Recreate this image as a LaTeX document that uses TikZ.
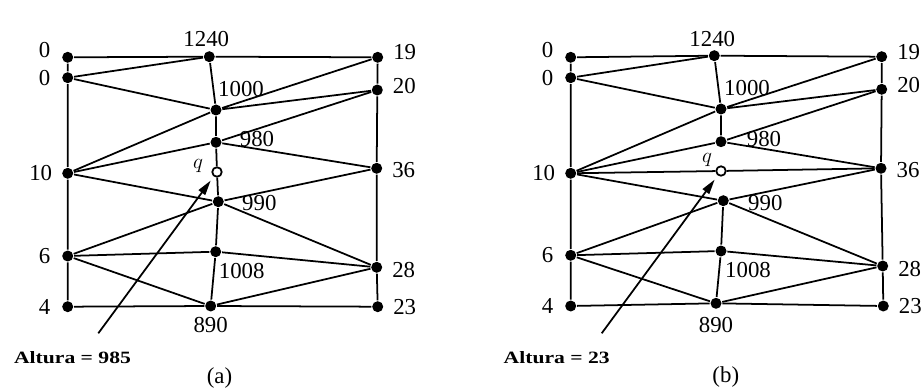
\documentclass[tikz,border=0pt]{standalone}
\usepackage{fontspec}
\setmainfont{Liberation Serif}
\usetikzlibrary{arrows.meta}
\tikzset{every picture/.style={line width=1pt}}
\tikzset{
  dot/.style={circle, fill=black, inner sep=0pt, minimum size=0.22cm},
  hollow/.style={circle, draw=black, fill=white, inner sep=0pt, minimum size=0.19cm},
  lab/.style={font=\fontsize{13}{15}\selectfont, inner sep=0pt},
  alt/.style={font=\fontsize{12.3}{14}\selectfont\bfseries, inner sep=0pt},
  pointer/.style={-{Triangle[length=0.3cm,width=0.16cm]}, shorten >=0.1cm}
}

\begin{document}
\begin{tikzpicture}[x=0.02cm, y=-0.02cm]
    \useasboundingbox (0,0) rectangle (922,391);

    % 图 (a) 的网格点
    \node[dot, label={[lab,shift={(-23,-7)}]center:0}]  (a0t)   at (67.7,57.3) {};
    \node[dot, label={[lab,shift={(-23,0)}]center:0}]   (a0b)   at (67.7,77.7) {};
    \node[dot, label={[lab,shift={(-27,0)}]center:10}]  (a10)   at (67.7,173.3) {};
    \node[dot, label={[lab,shift={(-23,0)}]center:6}]   (a6)    at (67.7,256) {};
    \node[dot, label={[lab,shift={(-23,0)}]center:4}]   (a4)    at (67.7,306.7) {};
    \node[dot, label={[lab,shift={(-3,-18)}]center:1240}] (a1240) at (209.3,56.7) {};
    \node[dot, label={[lab,shift={(25,-21)}]center:1000}] (a1000) at (216,110) {};
    \node[dot, label={[lab,shift={(41,-3)}]center:980}]   (a980)  at (216,142.3) {};
    \node[hollow, label={[lab,shift={(-19,-6)}]center:$q$}] (aq) at (217,172) {};
    \node[dot, label={[lab,shift={(41,1)}]center:990}]    (a990)  at (218.3,201.7) {};
    \node[dot, label={[lab,shift={(26,19)}]center:1008}]  (a1008) at (215.7,251.7) {};
    \node[dot, label={[lab,shift={(0,19)}]center:890}]    (a890)  at (210.7,306) {};
    \node[dot, label={[lab,shift={(27,-5)}]center:19}]  (a19)   at (377.7,57.3) {};
    \node[dot, label={[lab,shift={(27,-4)}]center:20}]  (a20)   at (377.3,90) {};
    \node[dot, label={[lab,shift={(27,2)}]center:36}]   (a36)   at (376.7,168.3) {};
    \node[dot, label={[lab,shift={(27,3)}]center:28}]   (a28)   at (376.7,267.3) {};
    \node[dot, label={[lab,shift={(27,0)}]center:23}]   (a23)   at (377.7,306.7) {};

    % 图 (a) 的边
    \draw (a0t) -- (a1240) -- (a19) -- (a20) -- (a36) -- (a28) -- (a23) -- (a890) -- (a4) -- (a6) -- (a10) -- (a0b) -- (a0t);
    \draw (a0b) -- (a1240) -- (a1000) -- (a0b);
    \draw (a19) -- (a1000) -- (a20);
    \draw (a10) -- (a1000) -- (a980);
    \draw (a20) -- (a980) -- (a10);
    \draw (a980) -- (a36);
    \draw (a980) -- (aq) -- (a990);
    \draw (a10) -- (a990) -- (a36);
    \draw (a6) -- (a990) -- (a28);
    \draw (a990) -- (a1008);
    \draw (a6) -- (a1008) -- (a28);
    \draw (a1008) -- (a890);
    \draw (a6) -- (a890) -- (a28);

    % 图 (a) 的查询点
    \coordinate (atail) at (98.3,333.3);
    \draw[pointer] (atail) -- (aq);
    \node[alt] (alta) at (72.5,357.5) {\scalebox{1}[0.8]{Altura = 985}};
    \node[lab] (capa) at (219.5,378) {(a)};

    % 图 (b) 的网格点
    \node[dot, label={[lab,shift={(-23,-7)}]center:0}]  (b0t)   at (570.7,57.3) {};
    \node[dot, label={[lab,shift={(-23,0)}]center:0}]   (b0b)   at (570.7,77.7) {};
    \node[dot, label={[lab,shift={(-27,0)}]center:10}]  (b10)   at (570.7,173.3) {};
    \node[dot, label={[lab,shift={(-23,0)}]center:6}]   (b6)    at (570.7,255.3) {};
    \node[dot, label={[lab,shift={(-23,0)}]center:4}]   (b4)    at (570.7,306) {};
    \node[dot, label={[lab,shift={(-2,-17)}]center:1240}] (b1240) at (714.3,55.7) {};
    \node[dot, label={[lab,shift={(26,-21)}]center:1000}] (b1000) at (721,109) {};
    \node[dot, label={[lab,shift={(43,-3)}]center:980}]   (b980)  at (721,141.7) {};
    \node[hollow, label={[lab,shift={(-14,-11)}]center:$q$}] (bq) at (721,171) {};
    \node[dot, label={[lab,shift={(42,2)}]center:990}]    (b990)  at (723.3,200.7) {};
    \node[dot, label={[lab,shift={(27,19)}]center:1008}]  (b1008) at (721,251) {};
    \node[dot, label={[lab,shift={(0,22)}]center:890}]    (b890)  at (716,303.3) {};
    \node[dot, label={[lab,shift={(27,-5)}]center:19}]  (b19)   at (881.7,56.7) {};
    \node[dot, label={[lab,shift={(27,-4)}]center:20}]  (b20)   at (881.7,89.3) {};
    \node[dot, label={[lab,shift={(27,2)}]center:36}]   (b36)   at (881,168.3) {};
    \node[dot, label={[lab,shift={(27,3)}]center:28}]   (b28)   at (882.7,266) {};
    \node[dot, label={[lab,shift={(27,0)}]center:23}]   (b23)   at (883.3,306) {};

    % 图 (b) 的边 (10--36 代替 980--990)
    \draw (b0t) -- (b1240) -- (b19) -- (b20) -- (b36) -- (b28) -- (b23) -- (b890) -- (b4) -- (b6) -- (b10) -- (b0b) -- (b0t);
    \draw (b0b) -- (b1240) -- (b1000) -- (b0b);
    \draw (b19) -- (b1000) -- (b20);
    \draw (b10) -- (b1000) -- (b980);
    \draw (b20) -- (b980) -- (b10);
    \draw (b980) -- (b36);
    \draw (b10) -- (bq) -- (b36);
    \draw (b10) -- (b990) -- (b36);
    \draw (b6) -- (b990) -- (b28);
    \draw (b990) -- (b1008);
    \draw (b6) -- (b1008) -- (b28);
    \draw (b1008) -- (b890);
    \draw (b6) -- (b890) -- (b28);

    % 图 (b) 的查询点
    \coordinate (btail) at (601.7,333.3);
    \draw[pointer] (btail) -- (bq);
    \node[alt] (altb) at (556.7,358) {\scalebox{1}[0.8]{Altura = 23}};
    \node[lab] (capb) at (725.8,377) {(b)};
\end{tikzpicture}
\end{document}
